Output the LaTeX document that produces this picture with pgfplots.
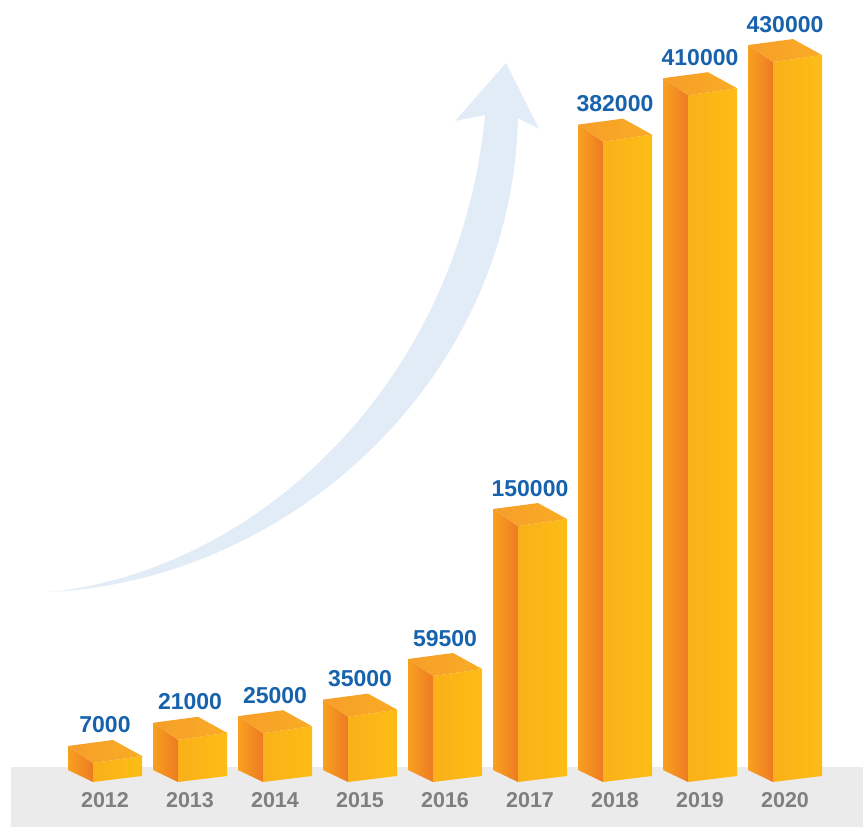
\documentclass[border=0pt]{standalone}
\usepackage{pgfplots}
\pgfplotsset{compat=1.18}
\usepackage{pgfplotstable}
\usepackage{fontspec}
\setmainfont{Liberation Sans}

\definecolor{sideL}{HTML}{F8A01F}
\definecolor{sideR}{HTML}{EE7B23}
\definecolor{frontL}{HTML}{FAB01A}
\definecolor{frontR}{HTML}{FDBD15}
\definecolor{topL}{HTML}{F69E2A}
\definecolor{topR}{HTML}{F9AC24}
\definecolor{valblue}{HTML}{1762AC}
\definecolor{yeargray}{HTML}{7F7F7F}
\definecolor{floorgray}{HTML}{EBEBEB}
\definecolor{arrowA}{HTML}{E2ECF7}

\pgfplotstableread{
x year v
0 2012 7000
1 2013 21000
2 2014 25000
3 2015 35000
4 2016 59500
5 2017 150000
6 2018 382000
7 2019 410000
8 2020 430000
}\data

\pgfplotsset{
  sideface/.style={forget plot, mark=none, draw=none, left color=sideL, right color=sideR},
  frontface/.style={forget plot, mark=none, draw=none, left color=frontL, right color=frontR},
  topface/.style={forget plot, mark=none, draw=none, left color=topL, right color=topR},
}
\tikzset{
  vallabel/.style={anchor=base, inner sep=0pt, text=valblue, font=\bfseries\fontsize{23}{23}\selectfont},
  yearlabel/.style={anchor=base, inner sep=0pt, text=yeargray, font=\bfseries\fontsize{21.5}{21.5}\selectfont},
}

\begin{document}
\begin{tikzpicture}
\begin{scope}[shift={(0pt,827pt)}, x=1pt, y=-1pt]
  \fill[floorgray] (11,767) rectangle (863,827);
  \fill[arrowA, draw=none]
    (50,592) .. controls (260,570) and (460,380) .. (485,115)
    -- (455,121) -- (506,63) -- (539,129) -- (518,118)
    .. controls (512,380) and (290,580) .. (50,592)
    -- cycle;
\end{scope}
\begin{axis}[at={(0pt,0pt)}, anchor=south west, scale only axis,
  width=863pt, height=827pt,
  xmin=-1.23529, xmax=8.91765, ymin=-31623, ymax=467471,
  hide axis, clip=false]
\pgfplotsinvokeforeach{0,...,8}{%
  \pgfplotstablegetelem{#1}{v}\of\data
  \let\val\pgfplotsretval
  \pgfplotstablegetelem{#1}{year}\of\data
  \let\yr\pgfplotsretval
  \pgfmathsetmacro\bx{#1-0.43529}
  \pgfmathsetmacro\fx{#1-0.14118}
  \pgfmathsetmacro\rx{#1+0.43529}
  \pgfmathsetmacro\brx{#1+0.09412}
  \pgfkeys{/pgf/fpu=true,/pgf/fpu/output format=fixed}
  \pgfmathsetmacro\ta{\val+4225}
  \pgfmathsetmacro\tb{\val+13881}
  \pgfmathsetmacro\tc{\val+10260}
  \pgfmathsetmacro\tl{\val+18105}
  \pgfkeys{/pgf/fpu=false}
  \edef\tmp{%
    \noexpand\addplot[sideface] coordinates {(\bx,2776) (\fx,-4466) (\fx,\val) (\bx,\tc)} -- cycle;
    \noexpand\addplot[frontface] coordinates {(\fx,-4466) (\rx,-845) (\rx,\ta) (\fx,\val)} -- cycle;
    \noexpand\addplot[topface] coordinates {(\fx,\val) (\rx,\ta) (\brx,\tb) (\bx,\tc)} -- cycle;
    \noexpand\node[vallabel] at (axis cs:#1,\tl) {\val};
    \noexpand\node[yearlabel] at (axis cs:#1,-20157) {\yr};
  }\tmp
}
\end{axis}
\pgfresetboundingbox
\path (0pt,0pt) rectangle (863pt,827pt);
\end{tikzpicture}
\end{document}
